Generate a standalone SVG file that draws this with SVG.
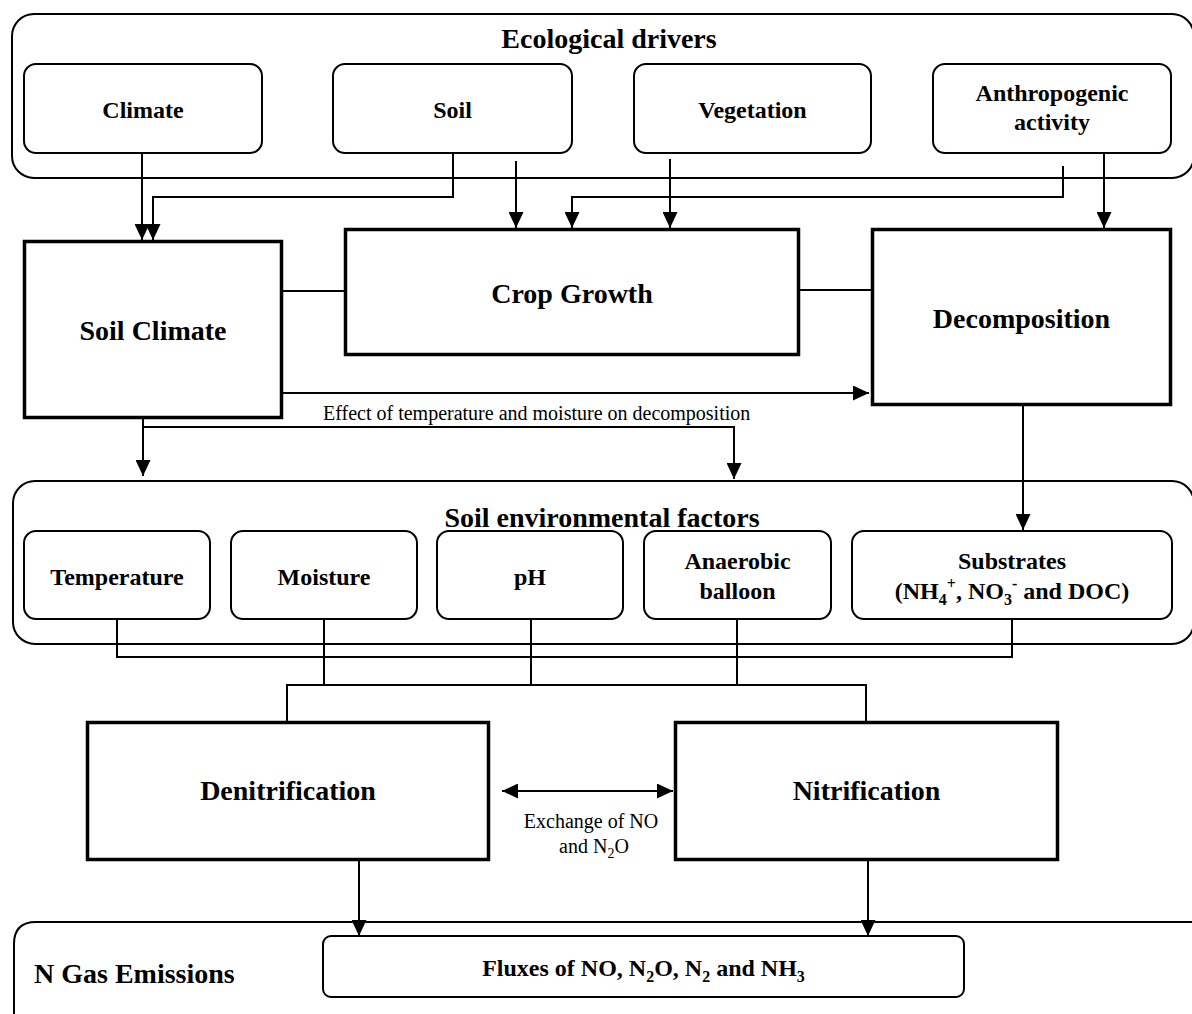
<svg xmlns="http://www.w3.org/2000/svg" width="1192" height="1014" viewBox="0 0 1192 1014">
<style>
text{font-family:"Liberation Serif","Times New Roman",serif;fill:#000}
.b{font-weight:bold}
.t28{font-size:28px}
.t24{font-size:24px}
.r20{font-size:20px}
.outer{fill:none;stroke:#000;stroke-width:2}
.rbox{fill:#fff;stroke:#000;stroke-width:2}
.tbox{fill:#fff;stroke:#000;stroke-width:3.5}
.c{fill:none;stroke:#000;stroke-width:2}
</style>
<defs>
<marker id="ah" markerUnits="userSpaceOnUse" markerWidth="16" markerHeight="15" viewBox="0 0 16 15" refX="16" refY="7.5" orient="auto-start-reverse">
<path d="M0,0 L16,7.5 L0,15 z" fill="#000"/>
</marker>
</defs>
<rect width="1192" height="1014" fill="#fff"/>

<g id="ecological-drivers">
<rect class="outer" x="12" y="14" width="1182" height="164" rx="22"/>
<text class="b t28" x="609" y="48" text-anchor="middle">Ecological drivers</text>
</g>
<g id="climate">
<rect class="rbox" x="24" y="64" width="238" height="89" rx="12"/>
<text class="b t24" x="143" y="118" text-anchor="middle">Climate</text>
</g>
<g id="soil">
<rect class="rbox" x="333" y="64" width="239" height="89" rx="12"/>
<text class="b t24" x="452.5" y="118" text-anchor="middle">Soil</text>
</g>
<g id="vegetation">
<rect class="rbox" x="634" y="64" width="237" height="89" rx="12"/>
<text class="b t24" x="752.5" y="118" text-anchor="middle">Vegetation</text>
</g>
<g id="anthropogenic">
<rect class="rbox" x="933" y="64" width="238" height="89" rx="12"/>
<text class="b t24" x="1052" y="101" text-anchor="middle">Anthropogenic</text>
<text class="b t24" x="1052" y="130" text-anchor="middle">activity</text>
</g>

<g id="soil-climate">
<rect class="tbox" x="24.5" y="241.5" width="257" height="176"/>
<text class="b t28" x="153" y="340" text-anchor="middle">Soil Climate</text>
</g>
<g id="crop-growth">
<rect class="tbox" x="345.5" y="229.5" width="453" height="125"/>
<text class="b t28" x="572" y="303" text-anchor="middle">Crop Growth</text>
</g>
<g id="decomposition">
<rect class="tbox" x="872.5" y="229.5" width="298" height="175"/>
<text class="b t28" x="1021.5" y="328" text-anchor="middle">Decomposition</text>
</g>

<g id="soil-environmental-factors">
<rect class="outer" x="13" y="481" width="1181" height="163" rx="22"/>
<text class="b t28" x="602" y="527" text-anchor="middle">Soil environmental factors</text>
</g>
<g id="temperature">
<rect class="rbox" x="24" y="531" width="186" height="88" rx="12"/>
<text class="b t24" x="117" y="585" text-anchor="middle">Temperature</text>
</g>
<g id="moisture">
<rect class="rbox" x="231" y="531" width="186" height="88" rx="12"/>
<text class="b t24" x="324" y="585" text-anchor="middle">Moisture</text>
</g>
<g id="ph">
<rect class="rbox" x="437" y="531" width="186" height="88" rx="12"/>
<text class="b t24" x="530" y="585" text-anchor="middle">pH</text>
</g>
<g id="anaerobic-balloon">
<rect class="rbox" x="644" y="531" width="187" height="88" rx="12"/>
<text class="b t24" x="737.5" y="569" text-anchor="middle">Anaerobic</text>
<text class="b t24" x="737.5" y="599" text-anchor="middle">balloon</text>
</g>
<g id="substrates">
<rect class="rbox" x="852" y="531" width="320" height="88" rx="12"/>
<text class="b t24" x="1012" y="569" text-anchor="middle">Substrates</text>
<text class="b t24" x="1012" y="599" text-anchor="middle">(NH<tspan font-size="16" dy="6">4</tspan><tspan font-size="16" dy="-16">+</tspan><tspan dy="10">, NO</tspan><tspan font-size="16" dy="6">3</tspan><tspan font-size="16" dy="-16">-</tspan><tspan dy="10"> and DOC)</tspan></text>
</g>

<g id="denitrification">
<rect class="tbox" x="87.5" y="722.5" width="401" height="137"/>
<text class="b t28" x="288" y="800" text-anchor="middle">Denitrification</text>
</g>
<g id="nitrification">
<rect class="tbox" x="675.5" y="722.5" width="382" height="137"/>
<text class="b t28" x="866.5" y="800" text-anchor="middle">Nitrification</text>
</g>

<g id="n-gas-emissions">
<path class="outer" d="M14,1020 V944 Q14,922 36,922 H1200"/>
<text class="b t28" x="34" y="983">N Gas Emissions</text>
</g>
<g id="fluxes">
<rect class="rbox" x="323" y="936" width="641" height="61" rx="8"/>
<text class="b t24" x="643.5" y="976" text-anchor="middle">Fluxes of NO, N<tspan font-size="16" dy="6">2</tspan><tspan dy="-6">O, N</tspan><tspan font-size="16" dy="6">2</tspan><tspan dy="-6"> and NH</tspan><tspan font-size="16" dy="6">3</tspan></text>
</g>

<g id="connectors">
<path class="c" d="M142,153 V240" marker-end="url(#ah)"/>
<path class="c" d="M453,153 V197 H153 V240" marker-end="url(#ah)"/>
<path class="c" d="M516,161 V228" marker-end="url(#ah)"/>
<path class="c" d="M670,159 V228" marker-end="url(#ah)"/>
<path class="c" d="M1063,166 V197 H572 V228" marker-end="url(#ah)"/>
<path class="c" d="M1104,153 V228" marker-end="url(#ah)"/>
<path class="c" d="M283,291 H344"/>
<path class="c" d="M800,290 H871"/>
<path class="c" d="M283,393 H869" marker-end="url(#ah)"/>
<path class="c" d="M143,418 V476" marker-end="url(#ah)"/>
<path class="c" d="M143,427 H734 V479" marker-end="url(#ah)"/>
<path class="c" d="M1023,405 V530" marker-end="url(#ah)"/>
<path class="c" d="M117,619 V657 H1012 V619"/>
<path class="c" d="M324,619 V685"/>
<path class="c" d="M531,619 V685"/>
<path class="c" d="M737,619 V685"/>
<path class="c" d="M287,721 V685 H866 V721"/>
<path class="c" d="M502,791 H673" marker-start="url(#ah)" marker-end="url(#ah)"/>
<path class="c" d="M359,861 V936" marker-end="url(#ah)"/>
<path class="c" d="M868,861 V936" marker-end="url(#ah)"/>
<text class="r20" x="323" y="420">Effect of temperature and moisture on decomposition</text>
<text class="r20" x="591" y="828" text-anchor="middle">Exchange of NO</text>
<text class="r20" x="594" y="853" text-anchor="middle">and N<tspan font-size="14" dy="5">2</tspan><tspan dy="-5">O</tspan></text>
</g>
</svg>
